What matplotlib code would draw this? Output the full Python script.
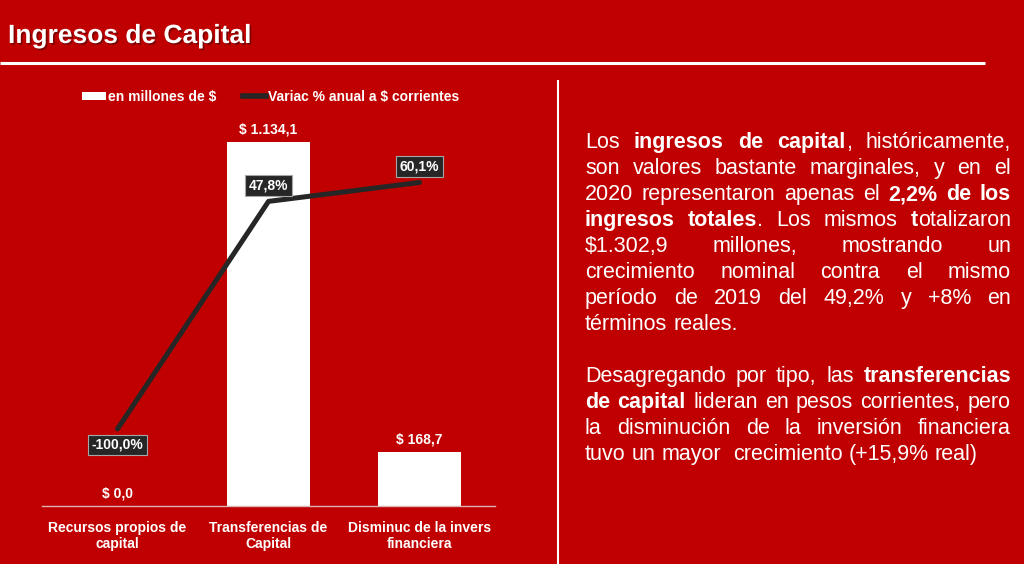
import numpy as np
import matplotlib.pyplot as plt
import matplotlib.patheffects as pe
from matplotlib.patches import Patch
from matplotlib.lines import Line2D

plt.rcParams['font.family'] = ['Liberation Sans', 'DejaVu Sans']

categorias = ['Recursos propios de\ncapital', 'Transferencias de\nCapital', 'Disminuc de la invers\nfinanciera']
millones = [0.0, 1134.1, 168.7]
variac = [-100.0, 47.8, 60.1]

# texto de la derecha, *...* = negrita, True = justificado
texto = [
    ("Los *ingresos de capital*, históricamente,", True),
    ("son valores bastante marginales, y en el", True),
    ("2020 representaron apenas el *2,2% de los*", True),
    ("*ingresos totales*. Los mismos *t*otalizaron", True),
    ("$1.302,9 millones, mostrando un", True),
    ("crecimiento nominal contra el mismo", True),
    ("período de 2019 del 49,2% y +8% en", True),
    ("términos reales.", False),
    ("Desagregando por tipo, las *transferencias*", True),
    ("*de capital* lideran en pesos corrientes, pero", True),
    ("la disminución de la inversión financiera", True),
    ("tuvo un mayor  crecimiento (+15,9% real)", False),
]

ROJO = '#c00000'
NEGRO = '#262626'


def pesos(v):
    s = f'{v:,.1f}'.replace(',', 'X').replace('.', ',').replace('X', '.')
    return '$ ' + s


def trozos(linea):
    palabras = []
    negrita = False
    for w in linea.split(' '):
        segs = []
        for i, p in enumerate(w.split('*')):
            if i > 0:
                negrita = not negrita
            if p:
                segs.append((p, negrita))
        palabras.append(segs)
    return palabras


fig = plt.figure(figsize=(10.24, 5.64), dpi=100, facecolor=ROJO)

# fondo en pixeles
bg = fig.add_axes([0, 0, 1, 1], zorder=-1)
bg.set_xlim(0, 1024)
bg.set_ylim(564, 0)
bg.set_facecolor('none')
bg.axis('off')

bg.text(8, 43, 'Ingresos de Capital', color='white', fontsize=19, fontweight='bold', va='baseline',
        path_effects=[pe.withSimplePatchShadow(offset=(1.2, -1.2), shadow_rgbFace='black', alpha=0.35)])
bg.plot([0, 985], [62.5, 62.5], color='white', lw=2.2, solid_capstyle='butt')
bg.plot([558, 558], [80, 564], color='white', lw=1.5, solid_capstyle='butt')

# grafico
ax = fig.add_axes([42 / 1024, 58 / 564, 453 / 1024, 385 / 564])
ax.set_facecolor('none')
x = np.arange(len(categorias))
bars = ax.bar(x, millones, width=0.55, color='white', zorder=2)
ax.set_xlim(-0.5, 2.5)
ax.set_ylim(0, 1200)
ax.bar_label(bars, labels=[pesos(v) for v in millones], padding=4, color='white',
             fontsize=10, fontweight='bold')
for s in ['top', 'left', 'right']:
    ax.spines[s].set_visible(False)
ax.spines['bottom'].set_color('#dcb4b4')
ax.spines['bottom'].set_linewidth(1)
ax.set_yticks([])
ax.set_xticks(x, categorias)
ax.tick_params(axis='x', length=0, pad=10.5, colors='white', labelsize=10)
for t in ax.get_xticklabels():
    t.set_fontweight('bold')

ax2 = ax.twinx()
ax2.plot(x, variac, color=NEGRO, lw=3.6, solid_capstyle='round', solid_joinstyle='round')
ax2.set_ylim(-150, 100)
ax2.axis('off')
for xi, v in zip(x, variac):
    dy = -11.5 if v < 0 else 11.5
    ax2.annotate(f'{v:.1f}%'.replace('.', ','), (xi, v), xytext=(0, dy), textcoords='offset points',
                 ha='center', va='center', color='white', fontsize=10, fontweight='bold',
                 bbox=dict(boxstyle='square,pad=0.25', fc=NEGRO, ec='#a6a6a6', lw=0.8))

handles = [Patch(facecolor='white', edgecolor='none'), Line2D([], [], color=NEGRO, lw=4)]
fig.legend(handles, ['en millones de $', 'Variac % anual a $ corrientes'], loc='center',
           bbox_to_anchor=(271 / 1024, 1 - 97 / 564), ncol=2, frameon=False,
           prop=dict(weight='bold', size=10), labelcolor='white', handlelength=1.7,
           handleheight=0.55, handletextpad=0.15, columnspacing=1.9)

# parrafos justificados
renderer = fig.canvas.get_renderer()
X0, X1 = 585, 1011
FS = 15.5
sp1 = bg.text(0, 0, 'a a', fontsize=FS)
sp2 = bg.text(0, 0, 'aa', fontsize=FS)
espacio = sp1.get_window_extent(renderer).width - sp2.get_window_extent(renderer).width
sp1.remove()
sp2.remove()

for i, (linea, just) in enumerate(texto):
    y = 148 + 26 * i if i < 8 else 382 + 26 * (i - 8)
    palabras = []
    for segs in trozos(linea):
        objs = []
        ancho = 0
        for txt, neg in segs:
            t = bg.text(0, y, txt, fontsize=FS, color='white', va='baseline',
                        fontweight='bold' if neg else 'normal')
            w = t.get_window_extent(renderer).width
            objs.append((t, ancho))
            ancho += w
        palabras.append((objs, ancho))
    total = sum(a for _, a in palabras)
    if just and len(palabras) > 1:
        gap = max((X1 - X0 - total) / (len(palabras) - 1), 2)
    else:
        gap = espacio
    xpos = X0
    for objs, ancho in palabras:
        for t, off in objs:
            t.set_x(xpos + off)
        xpos += ancho + gap

fig.savefig('out.png', dpi=100, facecolor=fig.get_facecolor())
